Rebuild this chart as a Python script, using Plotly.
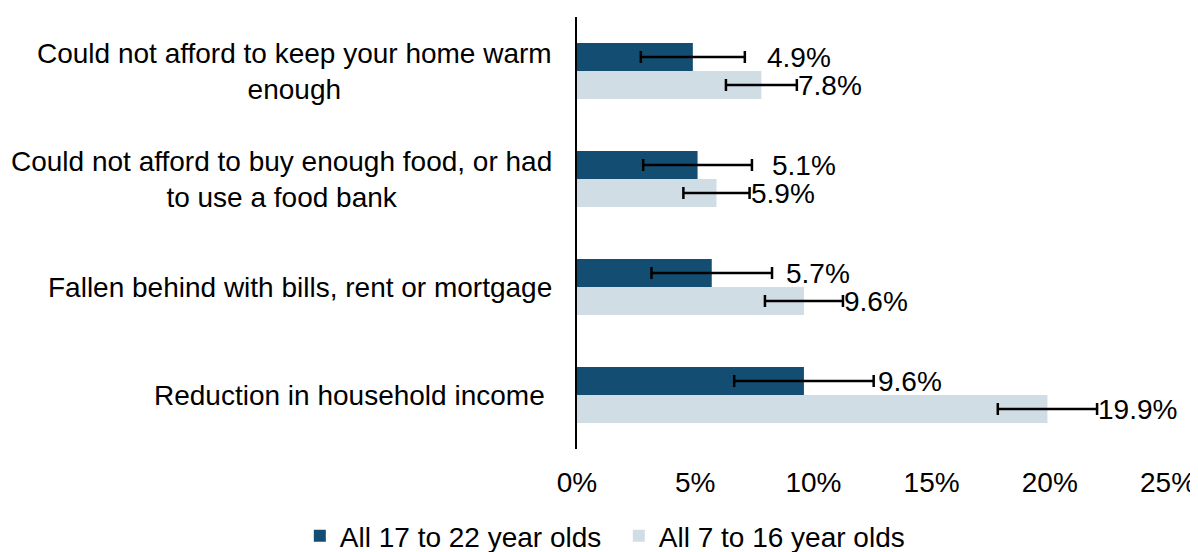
import plotly.graph_objects as go

categories = [
    "Could not afford to keep your home warm<br>enough",
    "Could not afford to buy enough food, or had<br>to use a food bank",
    "Fallen behind with bills, rent or mortgage",
    "Reduction in household income ",
]
older_vals = [4.9, 5.1, 5.7, 9.6]
older_err = [2.2, 2.3, 2.55, 2.95]
younger_vals = [7.8, 5.9, 9.6, 19.9]
younger_err = [1.5, 1.4, 1.65, 2.1]
older_name = "All 17 to 22 year olds"
younger_name = "All 7 to 16 year olds"
x_ticks = [0, 5, 10, 15, 20, 25]
x_tick_labels = ["0%", "5%", "10%", "15%", "20%", "25%"]

DARK = "#134e72"
LIGHT = "#d0dde5"
FONT = "Liberation Sans, Arial, sans-serif"
FS = 28

ids = list(range(len(categories)))

fig = go.Figure()
fig.add_trace(go.Bar(
    y=ids, x=older_vals, orientation="h", name=older_name,
    marker=dict(color=DARK, line=dict(width=0)),
    error_x=dict(type="data", array=older_err, color="black", thickness=2.5, width=6),
))
fig.add_trace(go.Bar(
    y=ids, x=younger_vals, orientation="h", name=younger_name,
    marker=dict(color=LIGHT, line=dict(width=0)),
    error_x=dict(type="data", array=younger_err, color="black", thickness=2.5, width=6),
))

annotations = []
for i, cat in enumerate(categories):
    annotations.append(dict(
        x=0, xref="paper", y=i, yref="y", text=cat, showarrow=False,
        xanchor="right", yanchor="middle", align="center", xshift=-23,
        font=dict(family=FONT, size=FS, color="black"),
    ))
    annotations.append(dict(
        x=older_vals[i], y=i, xref="x", yref="y", text=f"{older_vals[i]:.1f}%",
        showarrow=False, xanchor="left", yanchor="middle", xshift=72, yshift=14,
        font=dict(family=FONT, size=FS, color="black"),
    ))
    annotations.append(dict(
        x=younger_vals[i] + younger_err[i], y=i, xref="x", yref="y",
        text=f"{younger_vals[i]:.1f}%",
        showarrow=False, xanchor="left", yanchor="middle", xshift=-1, yshift=-14,
        font=dict(family=FONT, size=FS, color="black"),
    ))

fig.update_layout(
    width=1190, height=544,
    margin=dict(l=569, r=30, t=9, b=103, autoexpand=False),
    barmode="group", bargap=0.48, bargroupgap=0,
    plot_bgcolor="white", paper_bgcolor="white",
    font=dict(family=FONT, size=FS, color="black"),
    showlegend=True,
    legend=dict(orientation="h", x=-0.469, xanchor="left", y=-0.2016, yanchor="middle",
                font=dict(family=FONT, size=FS, color="black"), itemwidth=30,
                entrywidth=274, tracegroupgap=0),
    annotations=annotations,
)
fig.update_xaxes(range=[0, 25], tickvals=x_ticks, ticktext=x_tick_labels, automargin=False,
                 showgrid=False, zeroline=False, showline=False, ticks="",
                 ticklabelstandoff=14, tickfont=dict(family=FONT, size=FS, color="black"))
fig.update_yaxes(range=[3.5, -0.5], tickvals=ids, showticklabels=False, automargin=False,
                 showgrid=False, zeroline=False, showline=True, linecolor="black",
                 linewidth=1.5, ticks="")

fig.write_html("out.html")
